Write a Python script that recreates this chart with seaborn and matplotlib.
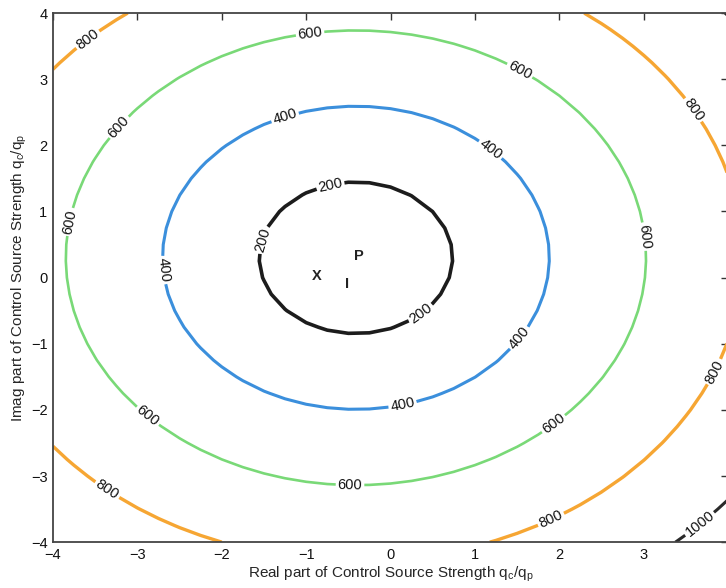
import numpy as np
import matplotlib
matplotlib.use("Agg")
import matplotlib.pyplot as plt
import seaborn as sns

# ---- data ----
levels = [200, 400, 600, 800, 1000]
level_colors = ["#1c1c1c", "#3b8fdc", "#79d977", "#f6a633", "#2a2a2a"]
center_re = -0.41          # centre of the contour rings (real part)
center_im = 0.30           # centre of the contour rings (imag part)
slope = 174.5              # contour value per unit distance from the centre
grid_re = np.linspace(-4, 4, 33)
grid_im = np.linspace(-4, 4, 33)

marker_text = ["X", "P", "I"]
marker_re = [-0.88, -0.37, -0.51]
marker_im = [0.02, 0.33, -0.10]

label_positions = [
    (-0.717, 1.429), (-1.511, 0.567), (0.350, -0.522),
    (-1.250, 2.427), (1.179, 1.928), (-2.696, 0.113), (1.511, -0.900), (0.148, -1.958),
    (-0.954, 3.698), (1.535, 3.138), (-3.206, 2.261), (-3.787, 0.839), (2.957, 0.612),
    (-2.850, -2.049), (1.926, -2.200), (-0.480, -3.123),
    (-3.538, 3.516), (3.585, 2.533), (3.751, -1.369), (-3.360, -3.214), (1.890, -3.622),
    (3.704, -3.788),
]

xticks = [-4, -3, -2, -1, 0, 1, 2, 3, 4]
xticklabels = ["\u22124", "\u22123", "\u22122", "\u22121", "0", "1", "2", "3", ""]
yticks = [-4, -3, -2, -1, 0, 1, 2, 3, 4]
yticklabels = ["\u22124", "\u22123", "\u22122", "\u22121", "0", "1", "2", "3", "4"]

# ---- style ----
sns.set_style("white")
plt.rcParams['font.family'] = ['Liberation Sans', 'DejaVu Sans']
plt.rcParams['mathtext.fontset'] = 'custom'
plt.rcParams['mathtext.rm'] = 'Liberation Sans'
plt.rcParams['mathtext.it'] = 'Liberation Sans'

fig = plt.figure(figsize=(7.26, 5.88), dpi=100)
ax = fig.add_axes([0.073, 0.078, 0.9298, 0.8997])

X, Y = np.meshgrid(grid_re, grid_im)
Z = slope * np.sqrt((X - center_re) ** 2 + (Y - center_im) ** 2)

cs = ax.contour(X, Y, Z, levels=levels, colors=level_colors, linewidths=[2.6, 2.2, 1.9, 2.4, 2.2])
ax.clabel(cs, fmt="%d", fontsize=10.5, colors="#111111", inline=True, inline_spacing=2,
          manual=label_positions)

for t, xr, yi in zip(marker_text, marker_re, marker_im):
    ax.text(xr, yi, t, fontsize=10.5, fontweight="bold", ha="center", va="center", color="#222222")

ax.set_xlim(-4, 4)
ax.set_ylim(-4, 4)
ax.set_xticks(xticks)
ax.set_yticks(yticks)
ax.set_xticklabels(xticklabels)
ax.set_yticklabels(yticklabels)
ax.tick_params(direction="in", length=5, width=1, color="#333333", labelsize=10.5,
               top=True, right=True, labelcolor="#111111", pad=4)
for s in ax.spines.values():
    s.set_color("#444444")
    s.set_linewidth(1.3)

ax.set_xlabel(r"Real part of Control Source Strength q$_c$/q$_p$", fontsize=11, labelpad=2)
ax.set_ylabel(r"Imag part of Control Source Strength q$_c$/q$_p$", fontsize=11, labelpad=1)

fig.savefig("out.png", dpi=100)
